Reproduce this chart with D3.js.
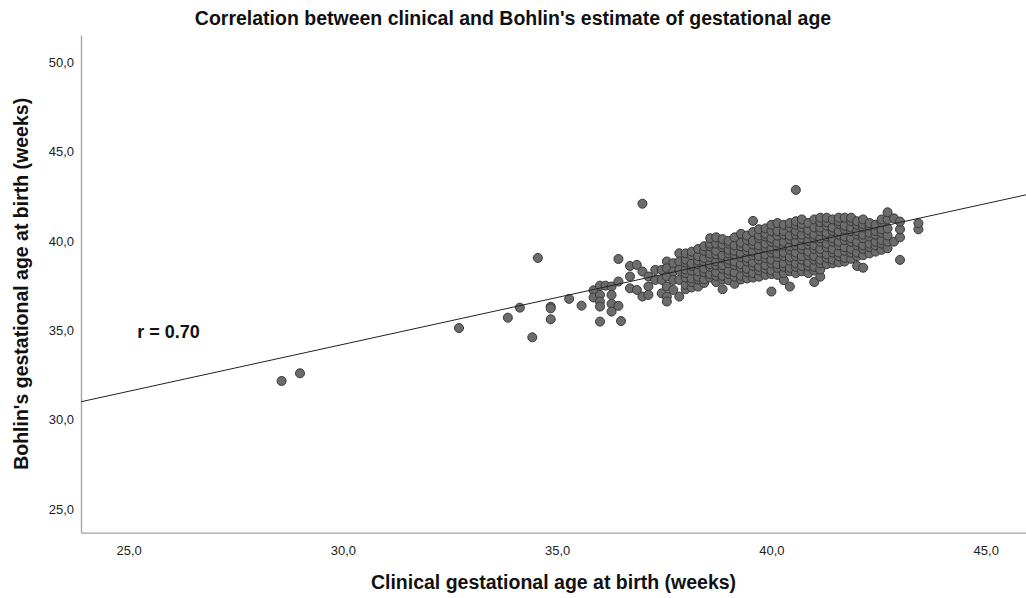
<!DOCTYPE html>
<html>
<head>
<meta charset="utf-8">
<script src="https://cdn.jsdelivr.net/npm/d3@7"></script>
<style>
  html, body { margin: 0; padding: 0; background: #fff; }
  svg { display: block; font-family: "Liberation Sans", Arial, sans-serif; }
</style>
</head>
<body>
<svg id="chart" width="1026" height="598"></svg>
<script>
// ---------- data ----------
const titleText = "Correlation between clinical and Bohlin's estimate of gestational age";
const xLabel = "Clinical gestational age at birth (weeks)";
const yLabel = "Bohlin's gestational age at birth (weeks)";
const annotation = "r = 0.70";
const annotationPos = [25.2, 34.55];

const xDomain = [23.89, 45.94];
const yDomain = [23.69, 51.51];
const xTicks = [25, 30, 35, 40, 45];
const yTicks = [25, 30, 35, 40, 45, 50];

// linear fit (Bohlin = a + b * clinical)
const fitIntercept = 18.48;
const fitSlope = 0.5245;

// sparse points (clinical, Bohlin)
const sparsePoints = [
  [28.57, 32.17], [29.00, 32.60], [32.71, 35.13], [33.85, 35.71], [34.13, 36.27],
  [34.42, 34.61], [34.55, 39.05], [34.85, 36.32], [34.85, 36.23], [34.85, 35.62],
  [35.28, 36.76], [35.57, 36.38], [35.85, 37.24], [35.85, 36.84],
  [36.00, 37.50], [36.00, 36.98], [36.00, 36.61], [36.00, 36.33], [36.00, 35.49],
  [36.13, 37.50], [36.27, 37.45], [36.27, 36.98], [36.27, 36.48], [36.27, 36.05],
  [36.43, 37.73], [36.43, 36.37], [36.43, 38.99], [36.49, 35.52],
  [36.70, 38.60], [36.70, 38.01], [36.70, 37.35], [36.86, 38.66], [36.86, 37.26],
  [36.99, 38.29], [36.99, 36.89], [36.99, 42.08],
  [37.13, 38.01], [37.13, 37.45], [37.13, 36.98],
  [37.29, 38.38], [37.29, 37.82], [37.44, 38.38], [37.44, 37.82], [37.44, 37.07],
  [37.56, 38.85], [37.56, 38.47], [37.56, 38.01], [37.56, 37.45], [37.56, 36.89], [37.56, 36.61],
  [37.71, 38.75], [37.71, 38.29], [37.71, 37.82], [37.71, 37.26],
  [37.85, 39.31], [37.85, 38.85], [37.85, 38.38], [37.85, 37.82], [37.85, 36.89]
];

// dense part: clinical value (days) and the Bohlin values seen in that column
const denseClinical = [
  38.00, 38.14, 38.29, 38.43, 38.57, 38.71, 38.86, 39.00, 39.14, 39.29,
  39.43, 39.57, 39.71, 39.86, 40.00, 40.14, 40.29, 40.43, 40.57, 40.71,
  40.86, 41.00, 41.14, 41.29, 41.43, 41.57, 41.71, 41.86, 42.00, 42.14,
  42.29, 42.43, 42.57, 42.71, 42.86, 43.00, 43.43
];
const denseBohlin = [
  [37.30, 37.55, 37.95, 38.20, 38.40, 38.80, 38.95, 39.30],
  [37.40, 37.70, 37.90, 38.35, 38.60, 38.75, 39.20, 39.40],
  [37.45, 37.85, 38.00, 38.30, 38.70, 38.90, 39.15, 39.55],
  [37.65, 37.85, 38.25, 38.45, 38.85, 39.05, 39.45, 39.70],
  [37.95, 38.15, 38.55, 38.70, 39.10, 39.30, 39.70, 39.85, 40.15],
  [37.70, 38.05, 38.25, 38.65, 38.85, 39.25, 39.45, 39.85, 40.20],
  [37.30, 37.85, 38.05, 38.45, 38.65, 39.05, 39.20, 39.65, 39.80, 40.10],
  [37.80, 38.15, 38.35, 38.75, 38.95, 39.30, 39.50, 39.85, 40.00],
  [37.60, 38.00, 38.25, 38.65, 38.85, 39.25, 39.45, 39.75, 40.20],
  [37.85, 38.05, 38.50, 38.70, 39.10, 39.30, 39.70, 39.90, 40.40],
  [37.90, 38.25, 38.45, 38.85, 39.05, 39.45, 39.65, 40.05, 40.30],
  [37.95, 38.20, 38.60, 38.80, 39.20, 39.40, 39.80, 40.00, 40.50, 41.12],
  [38.00, 38.35, 38.55, 38.95, 39.15, 39.55, 39.75, 40.15, 40.30, 40.65],
  [38.10, 38.45, 38.65, 39.05, 39.25, 39.65, 39.85, 40.25, 40.40, 40.70],
  [37.17, 38.15, 38.35, 38.75, 38.95, 39.35, 39.55, 39.95, 40.15, 40.55, 40.90],
  [38.10, 38.50, 38.70, 39.10, 39.30, 39.70, 39.90, 40.30, 40.55, 41.00],
  [37.80, 38.20, 38.55, 38.75, 39.15, 39.35, 39.75, 39.95, 40.35, 40.55, 40.90],
  [37.45, 38.30, 38.50, 38.90, 39.10, 39.50, 39.70, 40.10, 40.30, 40.75, 41.00],
  [38.20, 38.55, 38.75, 39.15, 39.35, 39.75, 39.95, 40.35, 40.55, 40.90, 41.10, 42.85],
  [38.30, 38.60, 38.95, 39.15, 39.55, 39.75, 40.15, 40.35, 40.75, 40.95, 41.20],
  [38.20, 38.60, 38.80, 39.20, 39.40, 39.80, 40.00, 40.40, 40.60, 41.00],
  [37.70, 38.35, 38.55, 38.95, 39.15, 39.55, 39.75, 40.15, 40.35, 40.75, 41.20],
  [38.00, 38.40, 38.75, 38.95, 39.35, 39.55, 39.95, 40.15, 40.55, 40.75, 41.05, 41.30],
  [38.70, 39.05, 39.25, 39.65, 39.85, 40.25, 40.45, 40.85, 41.05, 41.30],
  [38.75, 38.95, 39.35, 39.55, 39.95, 40.15, 40.55, 40.75, 41.20],
  [38.80, 39.15, 39.35, 39.75, 39.95, 40.35, 40.55, 40.95, 41.10, 41.30],
  [38.85, 39.05, 39.45, 39.65, 40.05, 40.25, 40.65, 40.85, 41.30],
  [39.00, 39.35, 39.55, 39.95, 40.15, 40.55, 40.75, 41.10, 41.30],
  [38.60, 39.15, 39.35, 39.75, 39.95, 40.35, 40.55, 40.90, 41.10],
  [38.50, 39.20, 39.55, 39.75, 40.15, 40.35, 40.75, 40.95, 41.20],
  [39.30, 39.65, 39.85, 40.25, 40.45, 40.85, 41.00],
  [39.40, 39.75, 39.95, 40.35, 40.55, 40.90],
  [39.50, 39.85, 40.05, 40.45, 40.65, 41.05, 41.20],
  [39.59, 39.96, 40.30, 40.70, 41.20, 41.60],
  [39.96, 41.26],
  [38.94, 40.20, 40.65, 41.08],
  [40.65, 40.99]
];

// ---------- layout ----------
const svg = d3.select("#chart");
const margin = { left: 81, right: 0, top: 35, bottom: 65.3 };
const W = 1026, H = 598;

const x = d3.scaleLinear().domain(xDomain).range([margin.left, W - margin.right]);
const y = d3.scaleLinear().domain(yDomain).range([H - margin.bottom, margin.top]);

const fmt = d => d.toFixed(1).replace(".", ",");

// axes
const xAxis = svg.append("g")
  .attr("transform", `translate(0,${H - margin.bottom})`)
  .call(d3.axisBottom(x).tickValues(xTicks).tickFormat(fmt).tickSize(0).tickPadding(10));
const yAxis = svg.append("g")
  .attr("transform", `translate(${margin.left},0)`)
  .call(d3.axisLeft(y).tickValues(yTicks).tickFormat(fmt).tickSize(0).tickPadding(7));

[xAxis, yAxis].forEach(g => {
  g.select(".domain").attr("stroke", "#a2a2a2").attr("stroke-width", 1.3);
  g.selectAll("text").attr("font-size", 13).attr("fill", "#222")
    .attr("font-family", "'Liberation Sans', Arial, sans-serif");
});
xAxis.selectAll("text").attr("dy", "0.95em");

// points
const allPoints = sparsePoints.slice();
denseClinical.forEach((cx, i) => denseBohlin[i].forEach(b => allPoints.push([cx, b])));

svg.append("g").selectAll("circle")
  .data(allPoints)
  .join("circle")
  .attr("cx", d => x(d[0]))
  .attr("cy", d => y(d[1]))
  .attr("r", 4.5)
  .attr("fill", "#6c6c6c")
  .attr("stroke", "#383838")
  .attr("stroke-width", 1);

// fit line
const line = d3.line().x(d => x(d)).y(d => y(fitIntercept + fitSlope * d));
svg.append("path")
  .datum(xDomain)
  .attr("d", line)
  .attr("fill", "none")
  .attr("stroke", "#222")
  .attr("stroke-width", 1);

// annotation
svg.append("text")
  .attr("x", x(annotationPos[0]))
  .attr("y", y(annotationPos[1]))
  .attr("font-size", 18)
  .attr("font-weight", "bold")
  .attr("fill", "#111")
  .text(annotation);

// title
svg.append("text")
  .attr("x", W / 2)
  .attr("y", 25)
  .attr("text-anchor", "middle")
  .attr("font-size", 19.5)
  .attr("font-weight", "bold")
  .attr("fill", "#111")
  .text(titleText);

// axis titles
svg.append("text")
  .attr("x", (margin.left + W - margin.right) / 2)
  .attr("y", 589)
  .attr("text-anchor", "middle")
  .attr("font-size", 19.5)
  .attr("font-weight", "bold")
  .attr("fill", "#111")
  .text(xLabel);

svg.append("text")
  .attr("transform", `translate(28,${(margin.top + H - margin.bottom) / 2}) rotate(-90)`)
  .attr("text-anchor", "middle")
  .attr("font-size", 19.5)
  .attr("font-weight", "bold")
  .attr("fill", "#111")
  .text(yLabel);
</script>
</body>
</html>
